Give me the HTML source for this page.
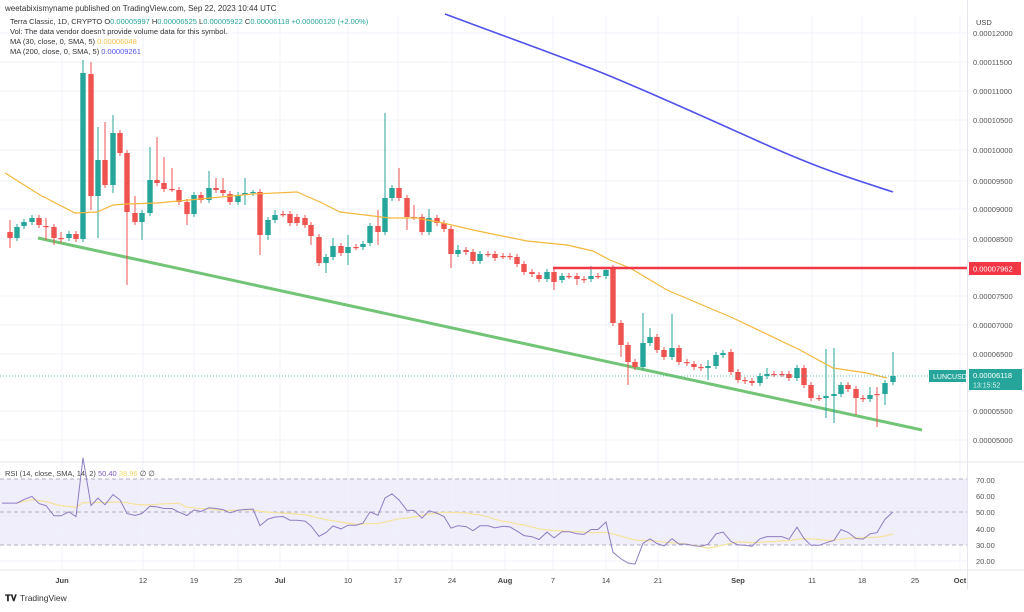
<!DOCTYPE html>
<html><head><meta charset="utf-8">
<style>
html,body{margin:0;padding:0;background:#fff;}
body{width:1024px;height:607px;overflow:hidden;font-family:"Liberation Sans",sans-serif;}
svg text{font-family:"Liberation Sans",sans-serif;}
</style></head>
<body>
<svg id="s" width="1024" height="607" xmlns="http://www.w3.org/2000/svg"></svg>
<script>
const S=document.getElementById('s');let h='';
const G='#26a69a',R='#ef5350';
// grid
const dates=[[62,'Jun',1],[143,'12'],[194,'19'],[238,'25'],[280,'Jul',1],[348,'10'],[398,'17'],[452,'24'],[505,'Aug',1],[553,'7'],[606,'14'],[658,'21'],[738,'Sep',1],[812,'11'],[862,'18'],[915,'25'],[960,'Oct',1]];
// RSI band
h+=`<rect x="0" y="479" width="967" height="66" fill="#f1eefb"/>`;
dates.forEach(d=>{h+=`<line x1="${d[0]}" y1="15" x2="${d[0]}" y2="570" stroke="#f0f3fa"/>`;});
const py=[[33,'0.00012000'],[62,'0.00011500'],[91,'0.00011000'],[120,'0.00010500'],[150,'0.00010000'],[181,'0.00009500'],[209,'0.00009000'],[239,'0.00008500'],[296,'0.00007500'],[325,'0.00007000'],[354,'0.00006500'],[411,'0.00005500'],[440,'0.00005000']];
py.forEach(p=>{h+=`<line x1="0" y1="${p[0]}" x2="967" y2="${p[0]}" stroke="#f0f3fa"/><text x="973" y="${p[0]+3}" font-size="7.5" fill="#555">${p[1]}</text>`;});
[[496,'60.00'],[529,'40.00'],[561,'20.00']].forEach(p=>{h+=`<line x1="0" y1="${p[0]}" x2="967" y2="${p[0]}" stroke="#f0f3fa"/>`;});
[[480,'70.00'],[496,'60.00'],[512,'50.00'],[529,'40.00'],[545,'30.00'],[561,'20.00']].forEach(p=>{h+=`<text x="976" y="${p[0]+3}" font-size="7.5" fill="#555">${p[1]}</text>`;});
[479,512,545].forEach(y=>{h+=`<line x1="0" y1="${y}" x2="967" y2="${y}" stroke="#9a98a8" stroke-dasharray="4,3" stroke-width="0.8"/>`;});
// separators
h+=`<line x1="967.5" y1="0" x2="967.5" y2="590" stroke="#e6e8ee"/>`;
h+=`<line x1="0" y1="462" x2="1024" y2="462" stroke="#e6e8ee"/>`;
h+=`<line x1="0" y1="570" x2="1024" y2="570" stroke="#e6e8ee"/>`;
dates.forEach(d=>{h+=`<text x="${d[0]}" y="583" font-size="7.5" text-anchor="middle" fill="#444" ${d[2]?'font-weight="bold"':''}>${d[1]}</text>`;});
h+=`<text x="976" y="25" font-size="7.5" fill="#444">USD</text>`;
// green trend
h+=`<line x1="38" y1="238" x2="922" y2="430" stroke="#72c476" stroke-width="3"/>`;
// MA200
h+=`<path d="M445,14 C520,42 560,56 600,72 S700,115 760,142 S850,178 893,192" fill="none" stroke="#5050ec" stroke-width="1.6"/>`;
// candles
const C=[[10,232,238,220,248],[17,238,227,0,0],[24,226,222],[32,222,218,215,0],[39,218,225],[46,226,227,218,240],[54,227,238,0,245],[61,238,238,232,243],[69,238,234],[76,234,239],[83,239,73,60,0],[91,74,196,62,210],[98,196,160,127,238],[105,160,185,122,0],[113,185,133,115,193],[120,133,153,130,0],[127,153,212,0,285],[135,213,222,196,0],[142,222,213,0,240],[150,213,180,147,0],[157,180,183,137,0],[164,183,189,157,0],[172,189,189,168,0],[179,190,202,0,0],[187,202,214,0,225],[194,214,195,0,0],[201,195,200],[209,200,188,171,0],[216,188,190,178,0],[223,190,193,178,0],[230,194,202],[238,202,195,0,0],[245,195,193,178,205],[253,193,192,190,0],[260,192,235,0,255],[268,235,220,0,240],[275,220,215,210,0],[283,214,214],[290,214,223],[297,217,223],[305,218,225],[311,225,236,0,245],[319,237,263],[326,263,257,0,273],[333,257,246,238,0],[341,246,253],[348,253,247,235,265],[356,247,247],[363,247,244],[370,243,226,0,0],[378,226,232,210,245],[385,232,198,113,0],[392,198,188],[399,188,198,168,0],[407,198,217,0,230],[414,217,217,205,0],[422,217,232,0,0],[429,232,218,209,0],[437,218,223],[444,223,229],[451,229,254,0,268],[458,254,250,245,0],[466,250,252],[473,252,261],[480,261,254],[488,254,254],[495,254,258],[503,256,256],[510,256,257],[517,257,264],[524,264,272],[532,272,274],[539,275,279],[547,279,272],[554,272,282,0,290],[562,280,276],[569,276,276],[577,276,279,0,285],[584,279,280],[591,279,276,266,0],[598,276,276],[606,276,270],[613,268,323,0,0],[621,323,345,0,357],[628,345,362,0,385],[635,362,367],[643,367,343,313,0],[650,343,337,328,0],[657,337,350],[664,350,357],[672,357,348,314,0],[679,348,362],[687,362,363],[694,364,367],[701,367,368],[708,368,366,360,380],[716,366,355],[723,355,353],[731,352,372],[738,372,380],[745,380,381],[752,381,383],[760,383,376],[767,376,374,368,0],[774,374,374],[782,374,374],[789,374,378],[797,378,368],[804,368,385],[811,385,398],[819,398,398],[826,398,396,349,418],[834,396,394,348,423],[841,394,385],[848,385,389],[856,389,398,0,415],[863,398,399],[870,399,395,387,0],[877,394,394,387,427],[885,394,383,0,405],[893,382,376,352,385]];
C.forEach(c=>{let [x,o,cl,hi,lo]=c;const col=cl<o?G:R;const t=Math.min(o,cl),b=Math.max(o,cl);
hi=hi||t-3;lo=lo||b+3;
h+=`<line x1="${x}" y1="${hi}" x2="${x}" y2="${lo}" stroke="${col}" stroke-width="1"/>`;
h+=`<rect x="${x-2.7}" y="${t}" width="5.4" height="${Math.max(b-t,1.2)}" fill="${col}"/>`;});
// MA30
h+=`<polyline points="5,173 40,195 75,213 97,212 113,205 127,204 157,203 253,194 297,192 320,202 340,212 390,218 417,218 443,223 473,230 527,241 567,245 593,251 610,260 630,268 667,290 733,318 800,350 833,368 867,373 887,378" fill="none" stroke="#f5b73b" stroke-width="1.2"/>`;
// red level
h+=`<line x1="553" y1="268" x2="967" y2="268" stroke="#f23645" stroke-width="2.5"/>`;
h+=`<rect x="969" y="262" width="52" height="13" fill="#f23645"/><text x="973" y="271.5" font-size="7.5" fill="#fff">0.00007962</text>`;
// last price
h+=`<line x1="0" y1="376" x2="967" y2="376" stroke="#26a69a" stroke-width="0.7" stroke-dasharray="1,2"/>`;
h+=`<rect x="929" y="370" width="37" height="12" fill="#26a69a"/><text x="933" y="379" font-size="7" fill="#fff">LUNCUSD</text>`;
h+=`<rect x="969" y="369" width="53" height="21" fill="#26a69a"/><text x="973" y="378" font-size="7.5" fill="#fff">0.00006118</text><text x="973" y="387.5" font-size="7" fill="#e0f5f2">13:15:52</text>`;
// RSI
const P=C.map(c=>(440-c[2])/5.8+50);let ag=0.6,al=0.6;const rs=[],xs=[];
for(let i=1;i<P.length;i++){const d=P[i]-P[i-1];ag=(ag*13+Math.max(d,0))/14;al=(al*13+Math.max(-d,0))/14;rs.push(100-100/(1+ag/al));xs.push(C[i][0]);}
const ry=v=>512-(v-50)*1.65;
let pts=[`2,${ry(rs[0]).toFixed(1)}`];rs.forEach((v,i)=>pts.push(`${xs[i]},${ry(v).toFixed(1)}`));
let sm=[];for(let i=0;i<rs.length;i++){const a=rs.slice(Math.max(0,i-13),i+1);sm.push(`${xs[i]},${ry(a.reduce((p,q)=>p+q,0)/a.length).toFixed(1)}`);}
h+=`<polyline points="${sm.join(' ')}" fill="none" stroke="#f4e39a" stroke-width="1.2"/>`;
h+=`<polyline points="${pts.join(' ')}" fill="none" stroke="#8e7cc3" stroke-width="1"/>`;
h+=`<text x="5" y="476" font-size="7.5" fill="#444">RSI (14, close, SMA, 14, 2) <tspan fill="#7e57c2">50.40</tspan> <tspan fill="#f0d96b">38.96</tspan> ∅ ∅</text>`;
// header
h+=`<text x="5" y="11" font-size="8" fill="#333">weetabixismyname published on TradingView.com, Sep 22, 2023 10:44 UTC</text>`;
h+=`<text x="10" y="24" font-size="7.5" fill="#333">Terra Classic, 1D, CRYPTO  O<tspan fill="#26a69a">0.00005997</tspan>  H<tspan fill="#26a69a">0.00006525</tspan>  L<tspan fill="#26a69a">0.00005922</tspan>  C<tspan fill="#26a69a">0.00006118  +0.00000120 (+2.00%)</tspan></text>`;
h+=`<text x="10" y="34" font-size="7.5" fill="#333">Vol: The data vendor doesn't provide volume data for this symbol.</text>`;
h+=`<text x="10" y="44" font-size="7.5" fill="#333">MA (30, close, 0, SMA, 5)  <tspan fill="#f5c04a">0.00006048</tspan></text>`;
h+=`<text x="10" y="54" font-size="7.5" fill="#333">MA (200, close, 0, SMA, 5)  <tspan fill="#5050ec">0.00009261</tspan></text>`;
// footer
h+=`<text x="5" y="601" font-size="9" font-weight="bold" fill="#222">𝐓𝐕</text><text x="20" y="601" font-size="8.5" fill="#333">TradingView</text>`;
S.innerHTML=h;
</script>
</body></html>
